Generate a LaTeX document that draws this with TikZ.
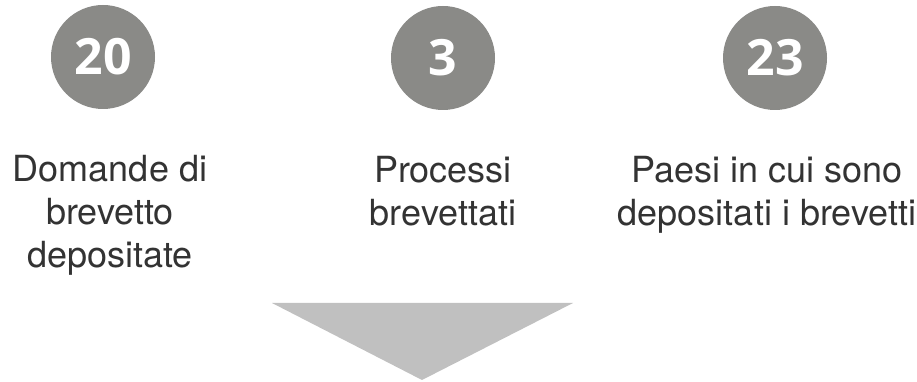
\documentclass[tikz,border=0pt]{standalone}
\usepackage{fontspec}
\setmainfont{TeX Gyre Heros}
\newfontfamily\numfont{Open Sans}
\usetikzlibrary{positioning}
\definecolor{circgray}{RGB}{138,138,135}
\definecolor{arrgray}{RGB}{192,192,192}
\definecolor{txtgray}{RGB}{51,51,51}

\begin{document}
\begin{tikzpicture}[x=1pt, y=1pt, node distance=46pt,
    num/.style={circle, fill=circgray, minimum size=104pt, inner sep=0pt, text=white, font=\numfont\bfseries\fontsize{50}{50}\selectfont},
    lbl/.style={align=center, inner sep=0pt, text=txtgray, font=\fontsize{36}{43}\selectfont}]

    \useasboundingbox (0,0) rectangle (917,382);

    % Define the numbers (circles)
    \node[num] (c1) at (103,325) {20};
    \node[num] (c2) at (443,324) {3};
    \node[num] (c3) at (775,324) {23};
    % Define the labels below the circles
    \node[lbl, below=of c1.south, anchor=north, xshift=7pt] (l1) {Domande di\\brevetto\\depositate};
    \node[lbl, below=of c2.south, anchor=north] (l2) {Processi\\brevettati};
    \node[lbl, below=of c3.south, anchor=north, xshift=-8pt] (l3) {Paesi in cui sono\\depositati i brevetti};
    % Arrow pointing down
    \fill[arrgray] (272,79) -- (573,79) -- (422,2) -- cycle;
\end{tikzpicture}
\end{document}
